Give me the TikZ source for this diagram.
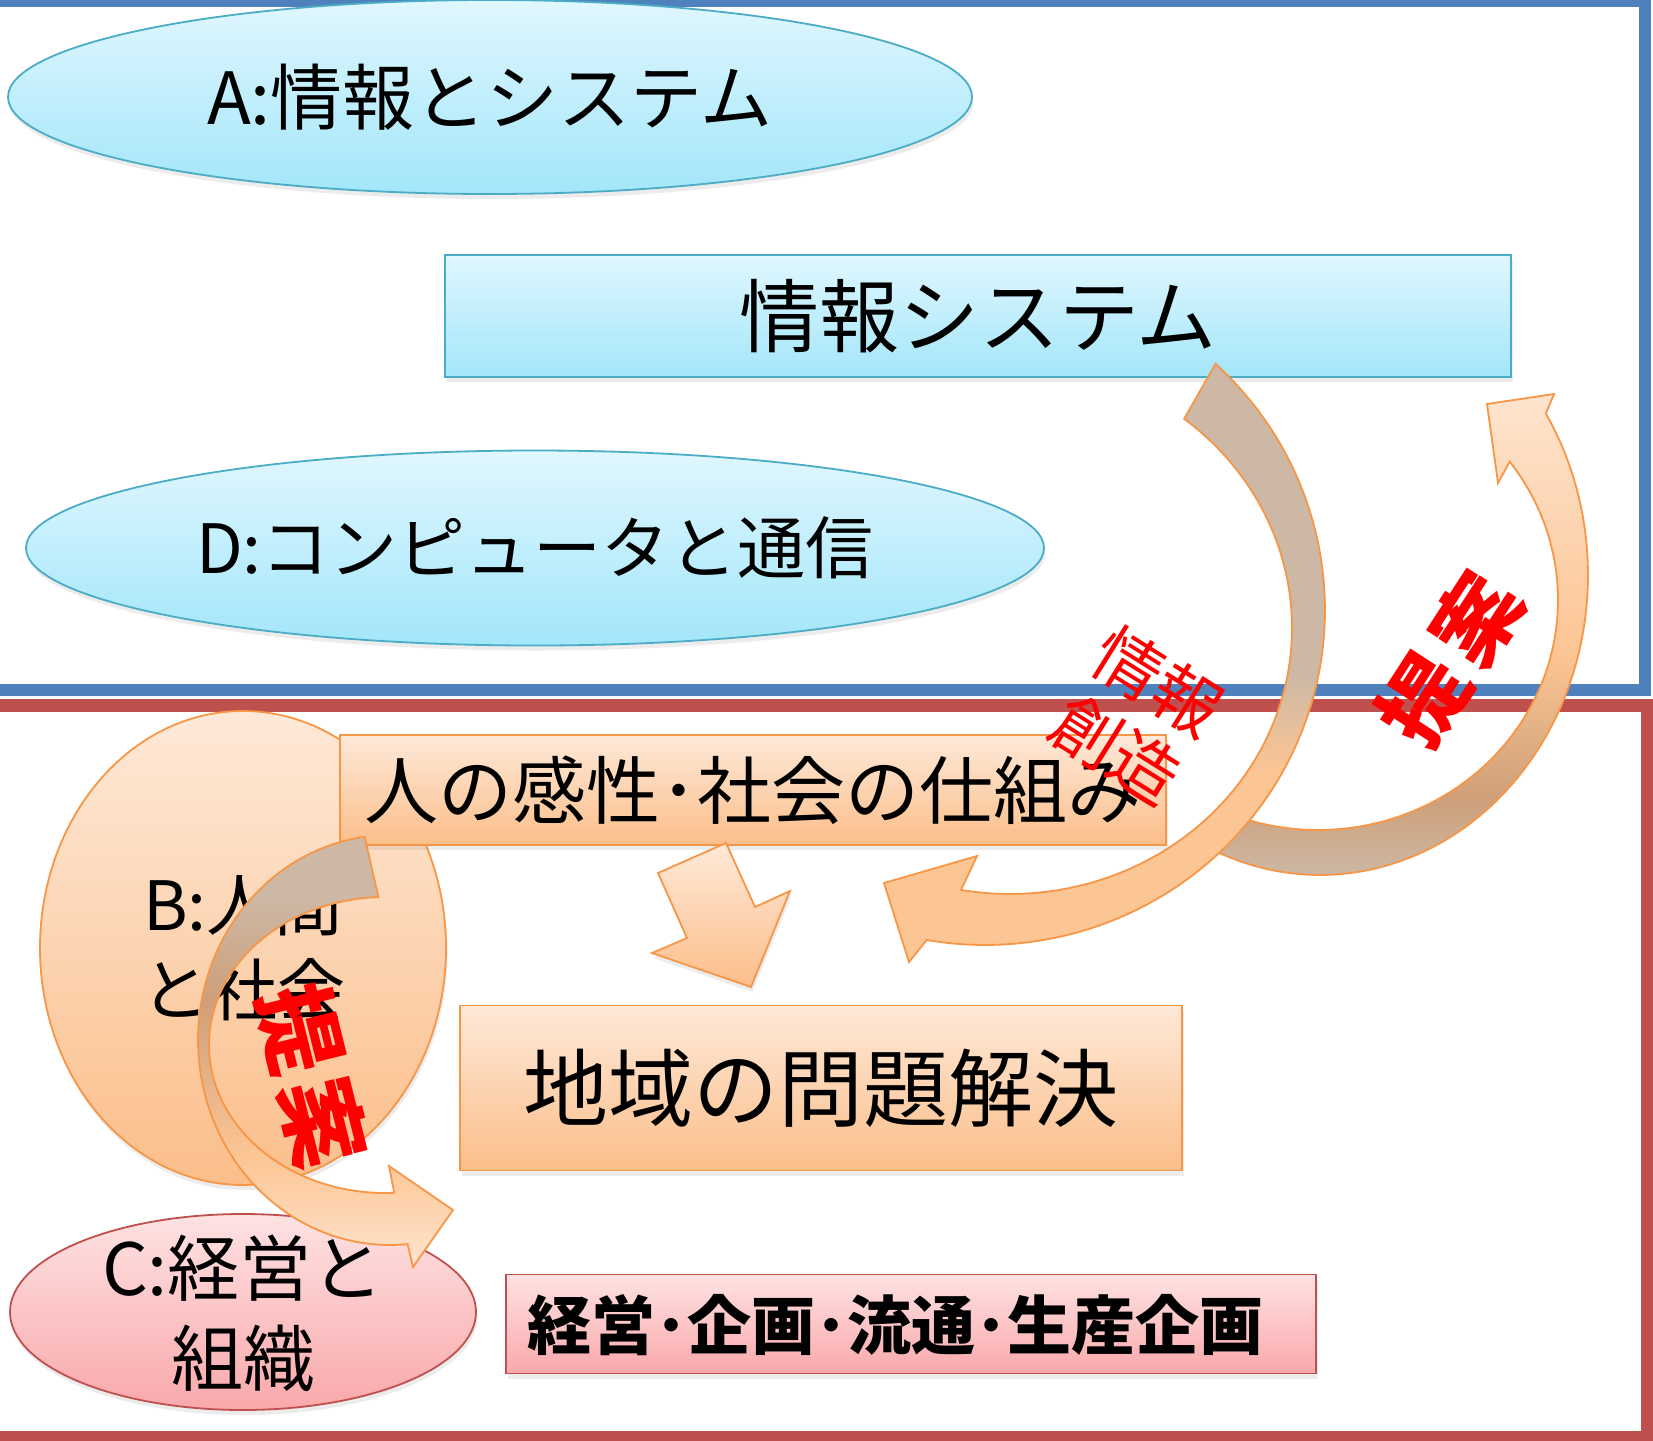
\documentclass[tikz,border=0pt]{standalone}
\usepackage{fontspec}
\setmainfont{Noto Sans CJK JP}
\usetikzlibrary{shapes.geometric,shadows}
\definecolor{frameblue}{HTML}{4F81BD}
\definecolor{framered}{HTML}{C0504D}
\definecolor{aqline}{HTML}{4BACC6}
\definecolor{aqtop}{HTML}{E0F7FE}
\definecolor{aqbot}{HTML}{A3E6FA}
\definecolor{ortop}{HTML}{FEE9D8}
\definecolor{orbot}{HTML}{FBBE8A}
\definecolor{orline}{HTML}{F79646}
\definecolor{pktop}{HTML}{FEE2E2}
\definecolor{pkbot}{HTML}{F9A8AB}
\definecolor{pkline}{HTML}{C0504D}
\definecolor{artan}{HTML}{CDB8A5}
\definecolor{arbrown}{HTML}{CE9F79}
\definecolor{arpeach}{HTML}{FCC594}
\definecolor{arlight}{HTML}{FEE4CE}
\definecolor{lblred}{HTML}{FF0000}
\pgfdeclareverticalshading{shA}{100bp}{color(0bp)=(arpeach); color(25bp)=(arpeach); color(41bp)=(arpeach); color(49bp)=(artan); color(75bp)=(artan); color(100bp)=(artan)}
\pgfdeclareverticalshading{shB}{100bp}{color(0bp)=(artan); color(25bp)=(artan); color(33bp)=(arbrown); color(48bp)=(arpeach); color(75bp)=(arlight); color(100bp)=(arlight)}
\pgfdeclareverticalshading{shC}{100bp}{color(0bp)=(arlight); color(25bp)=(arlight); color(38bp)=(arpeach); color(56bp)=(arbrown); color(68bp)=(artan); color(75bp)=(artan); color(100bp)=(artan)}
\begin{document}
\begin{tikzpicture}[x=1pt,y=-1pt,
  aq/.style={draw=aqline, line width=1.8pt, top color=aqtop, bottom color=aqbot},
  orf/.style={draw=orline, line width=1.8pt, top color=ortop, bottom color=orbot},
  pk/.style={draw=pkline, line width=1.8pt, top color=pktop, bottom color=pkbot},
  shd/.style={drop shadow={shadow xshift=1.5pt, shadow yshift=-5pt, opacity=.15}},
  rbox/.style={rectangle, inner sep=0pt},
  ell/.style={ellipse, inner sep=0pt},
  arr/.style={draw=orline, line width=1.8pt, line join=miter},
  lbl/.style={text=lblred, inner sep=0pt, align=center},
]
\useasboundingbox (0,0) rectangle (1653,1440);
\clip (0,0) rectangle (1653,1440);
\fill[white] (0,0) rectangle (1653,1440);
% frames
\draw[frameblue, line width=12pt] (-50,1) -- (1645,1) -- (1645,690) -- (-50,690);
\draw[framered, line width=13pt] (-50,705) -- (1647,705) -- (1647,1437) -- (-50,1437);
% upper shapes
\node[ell, aq, shd, minimum width=964pt, minimum height=194pt, font=\fontsize{72}{86}\selectfont] (A) at (490,97) {A:情報とシステム};
\node[rbox, aq, shd, minimum width=1066pt, minimum height=122pt, font=\fontsize{80}{96}\selectfont] (sys) at (978,316) {情報システム};
\node[ell, aq, shd, minimum width=1018pt, minimum height=195pt, font=\fontsize{68}{82}\selectfont] (D) at (535,548) {D:コンピュータと通信};
% lower shapes
\node[ell, orf, shd, minimum width=406pt, minimum height=474pt, align=center, font=\fontsize{68}{85}\selectfont] (B) at (243,948) {B:人間\\と社会};
\node[rbox, orf, shd, minimum width=826pt, minimum height=110pt, font=\fontsize{74}{88}\selectfont] (kansei) at (753,790) {人の感性･社会の仕組み};
\node[rbox, orf, shd, minimum width=722pt, minimum height=165pt, font=\fontsize{85}{100}\selectfont] (chiiki) at (821,1088) {地域の問題解決};
\node[ell, pk, shd, minimum width=466pt, minimum height=196pt] (C) at (243,1312) {};
\node[inner sep=0pt, align=center, font=\fontsize{72}{90}\selectfont] (Clbl) at (243,1313) {C:経営と\\組織};
\node[rbox, pk, shd, minimum width=810pt, minimum height=99pt] (plan) at (911,1324) {};
\node[inner sep=0pt, font=\bfseries\fontsize{64}{76}\selectfont] (planlbl) at (895,1325) {経営･企画･流通･生産企画};
% straight block arrow
\path[arr, top color=ortop, bottom color=orbot, shd] (658,873) -- (726,843) -- (755,907) -- (790,891) -- (751,987) -- (652,953) -- (687,938) -- cycle;
% right curved arrow (teian)
\shadedraw[arr, shading=shB]
  plot[domain=0:1, samples=70, variable=\s] ({1320+268*cos(115.9-148.6*\s)}, {575+300*sin(115.9-148.6*\s)})
  -- (1554,394) -- (1487,404) -- (1498,483)
  -- plot[domain=0:1, samples=70, variable=\s] ({1318+240*cos(-37+147*\s)}, {600+230*sin(-37+147*\s)})
  -- cycle;
% middle curved arrow (jouhou souzou)
\shadedraw[arr, shading=shA]
  plot[domain=0:1, samples=70, variable=\s] ({985+340*cos(-47.3+147.3*\s)}, {610+335*sin(-47.3+147.3*\s)})
  -- (909,962) -- (884,883) -- (977,856)
  -- plot[domain=0:1, samples=70, variable=\s] ({1010+282*cos(100-152*\s)}, {628+266*sin(100-152*\s)})
  -- cycle;
% left curved arrow (teian)
\shadedraw[arr, shading=shC]
  plot[domain=0:1, samples=70, variable=\s] ({390+192*cos(262.4-177.8*\s)}, {1040+205*sin(262.4-177.8*\s)})
  -- (413,1267) -- (453,1210) -- (389,1166)
  -- plot[domain=0:1, samples=70, variable=\s] ({385+176*cos(87+181*\s)}, {1045+148*sin(87+181*\s)})
  -- cycle;
% red labels
\node[lbl, rotate=-32, font=\fontsize{68}{80}\selectfont] (souzou) at (1137,716) {情報\\創造};
\node[lbl, rotate=57, font=\bfseries\fontsize{86}{86}\selectfont] (teianR) at (1450,659) {提\kern10pt案};
\node[lbl, rotate=-76, font=\bfseries\fontsize{88}{88}\selectfont] (teianL) at (312,1076) {提\kern8pt案};
\end{tikzpicture}
\end{document}
